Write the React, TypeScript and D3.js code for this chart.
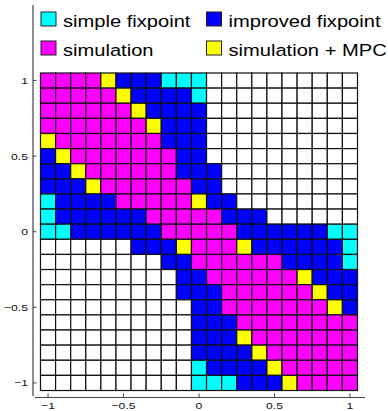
import * as d3 from "d3";

// grid coordinates (cell centres)
const xValues = [-1, -0.9, -0.8, -0.7, -0.6, -0.5, -0.4, -0.3, -0.2, -0.1, 0, 0.1, 0.2, 0.3, 0.4, 0.5, 0.6, 0.7, 0.8, 0.9, 1];
const yValues = [1, 0.9, 0.8, 0.7, 0.6, 0.5, 0.4, 0.3, 0.2, 0.1, 0, -0.1, -0.2, -0.3, -0.4, -0.5, -0.6, -0.7, -0.8, -0.9, -1];

// one string per row, top (y=1) to bottom (y=-1)
// C simple fixpoint, B improved fixpoint, M simulation, Y simulation + MPC, W none
const cellRows = [
  "MMMMYBBBCCCWWWWWWWWWW",
  "MMMMMYBBBBCWWWWWWWWWW",
  "MMMMMMYBBBBWWWWWWWWWW",
  "MMMMMMMYBBBWWWWWWWWWW",
  "YMMMMMMMBBBWWWWWWWWWW",
  "BYMMMMMMMBBWWWWWWWWWW",
  "BBYMMMMMMBBBWWWWWWWWW",
  "BBBYMMMMMMBBWWWWWWWWW",
  "CBBBBMMMMMYBBWWWWWWWW",
  "CBBBBBBMMMMMBBBWWWWWW",
  "CCBBBBBBMMMMMBBBBBBCC",
  "WWWWWWBBBYMMMYBBBBBBC",
  "WWWWWWWWBBMMMMMMBBBBC",
  "WWWWWWWWWBBMMMMMMYBBB",
  "WWWWWWWWWBBBMMMMMMYBB",
  "WWWWWWWWWWBBMMMMMMMYB",
  "WWWWWWWWWWBBBMMMMMMMM",
  "WWWWWWWWWWBBBYMMMMMMM",
  "WWWWWWWWWWBBBBYMMMMMM",
  "WWWWWWWWWWCBBBBYMMMMM",
  "WWWWWWWWWWCCCBBBYMMMM",
];

const categories = ["simple fixpoint", "improved fixpoint", "simulation", "simulation + MPC"];
const categoryCodes = ["C", "B", "M", "Y"];
const categoryColors = ["#00ffff", "#0000ff", "#ff00ff", "#ffff00"];

const tickValues = [-1, -0.5, 0, 0.5, 1];

const width = 388;
const height = 411;

export default function App() {
  const x = d3.scaleLinear().domain([-1.05, 1.05]).range([40.5, 357.5]);
  const y = d3.scaleLinear().domain([-1.05, 1.05]).range([390.5, 73]);
  const color = d3.scaleOrdinal<string, string>()
    .domain([...categoryCodes, "W"])
    .range([...categoryColors, "#ffffff"]);
  const fmt = d3.format("~g");
  const half = 0.05;

  const axisColor = "#444";
  const font = "'Liberation Sans', Arial, sans-serif";
  const stretch = 1.28;

  const legendPos = [
    { sx: 41, sy: 12 },
    { sx: 206.5, sy: 12 },
    { sx: 41, sy: 41 },
    { sx: 206.5, sy: 41 },
  ];

  return (
    <svg width={width} height={height} style={{ position: "absolute", left: 0, top: 0 }}>
      <rect width={width} height={height} fill="#fff" />

      {/* cells */}
      <g>
        {cellRows.map((row, r) =>
          row.split("").map((code, c) => (
            <rect
              key={r + "-" + c}
              x={x(xValues[c] - half)}
              y={y(yValues[r] + half)}
              width={x(xValues[c] + half) - x(xValues[c] - half)}
              height={y(yValues[r] - half) - y(yValues[r] + half)}
              fill={color(code)}
              stroke="#111"
              strokeWidth={1.2}
            />
          ))
        )}
      </g>

      {/* left axis */}
      <line x1={33} x2={33} y1={5} y2={396} stroke={axisColor} strokeWidth={1.2} />
      {tickValues.map((t) => (
        <g key={"y" + t}>
          <line x1={33} x2={36.5} y1={y(t)} y2={y(t)} stroke={axisColor} />
          <text
            transform={`translate(28,${y(t) + 3.5}) scale(${stretch},1)`}
            textAnchor="end"
            fontSize={9.5}
            fontFamily={font}
            fill="#111"
          >
            {fmt(t)}
          </text>
        </g>
      ))}

      {/* bottom axis */}
      <line x1={35} x2={365} y1={397.5} y2={397.5} stroke={axisColor} strokeWidth={1.2} />
      {tickValues.map((t) => (
        <g key={"x" + t}>
          <line x1={x(t)} x2={x(t)} y1={397.5} y2={393.5} stroke={axisColor} />
          <text
            transform={`translate(${x(t)},409) scale(${stretch},1)`}
            textAnchor="middle"
            fontSize={9.5}
            fontFamily={font}
            fill="#111"
          >
            {fmt(t)}
          </text>
        </g>
      ))}

      {/* legend */}
      {categories.map((name, i) => (
        <g key={name}>
          <rect
            x={legendPos[i].sx}
            y={legendPos[i].sy}
            width={15}
            height={14}
            fill={categoryColors[i]}
            stroke="#222"
            strokeWidth={1}
          />
          <text
            transform={`translate(${legendPos[i].sx + 22},${legendPos[i].sy + 14.5}) scale(1.22,1)`}
            fontSize={16.5}
            fontFamily={font}
            fill="#000"
          >
            {name}
          </text>
        </g>
      ))}
    </svg>
  );
}
